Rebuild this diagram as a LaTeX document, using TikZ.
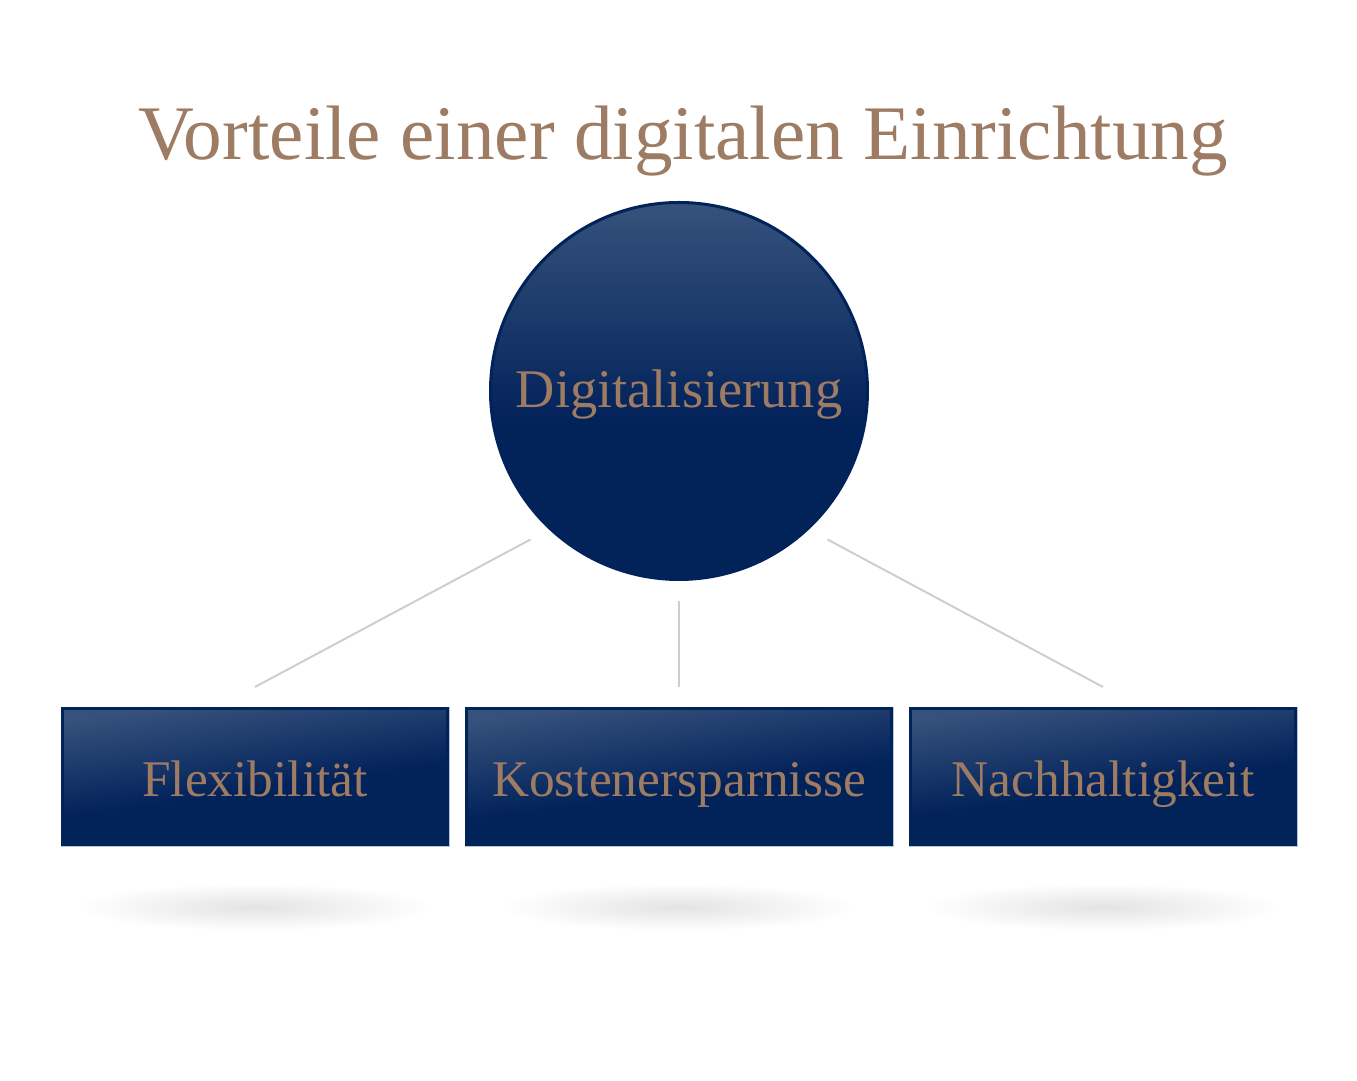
\documentclass[tikz,border=0pt]{standalone}
\usepackage{fontspec}
\setmainfont{Liberation Serif}
\usepackage{tikz}
\usetikzlibrary{positioning, calc}

\definecolor{navy}{RGB}{2,34,90}
\definecolor{navylight}{RGB}{54,82,124}
\definecolor{tan}{RGB}{158,123,99}
\definecolor{linkgray}{RGB}{206,206,206}
\definecolor{bevel}{RGB}{182,198,222}

\pgfdeclareverticalshading{navyglow}{100bp}{color(0bp)=(navy); color(46bp)=(navy); color(75bp)=(navylight); color(100bp)=(navylight)}

\begin{document}
\begin{tikzpicture}[x=0.5pt, y=0.5pt,
    hub/.style={circle, draw=navy, line width=1.5pt, shading=navyglow,
      minimum size=188.5pt, inner sep=0pt, text=tan,
      text height=20pt, text depth=3pt,
      font=\fontsize{27.2}{31}\selectfont},
    benefit/.style={rectangle, draw=navy, line width=1.5pt, shading=navyglow,
      shading angle=8, minimum height=68.5pt, inner sep=0pt, text=tan,
      text height=22pt, text depth=2pt,
      font=\fontsize{25.7}{29}\selectfont},
    link/.style={linkgray, line width=1pt},
    floor/.style={inner color=black!11, outer color=white}]
  \useasboundingbox (0,0) rectangle (1357,1081);

  % Title
  \node[text=tan, anchor=base, font=\fontsize{38.6}{44}\selectfont] (title) at (683,921)
    {Vorteile einer digitalen Einrichtung};

  % Centre circle
  \node[hub] (circ) at (679,690) {Digitalisierung};

  % Three boxes below
  \node[benefit, minimum width=212.5pt, below=63pt of circ] (box2) {Kostenersparnisse};
  \node[benefit, minimum width=192.5pt, left=8pt of box2] (box1) {Flexibilität};
  \node[benefit, minimum width=192.5pt, right=8pt of box2] (box3) {Nachhaltigkeit};

  % Bevel edge and floor shadow of each box
  \foreach \b in {box1,box2,box3} {
    \draw[bevel, line width=0.5pt] (\b.north east) -- (\b.south east) -- (\b.south west);
    \shade[floor] ($(\b.south)+(0,-60)$) ellipse (178 and 24);
  }

  % Connectors (stop short of circle and boxes)
  \draw[link] ($(circ)+(225:210)$) -- ($(box1.north)+(0,20)$);
  \draw[link] ($(circ)+(270:210)$) -- ($(box2.north)+(0,20)$);
  \draw[link] ($(circ)+(315:210)$) -- ($(box3.north)+(0,20)$);
\end{tikzpicture}
\end{document}
